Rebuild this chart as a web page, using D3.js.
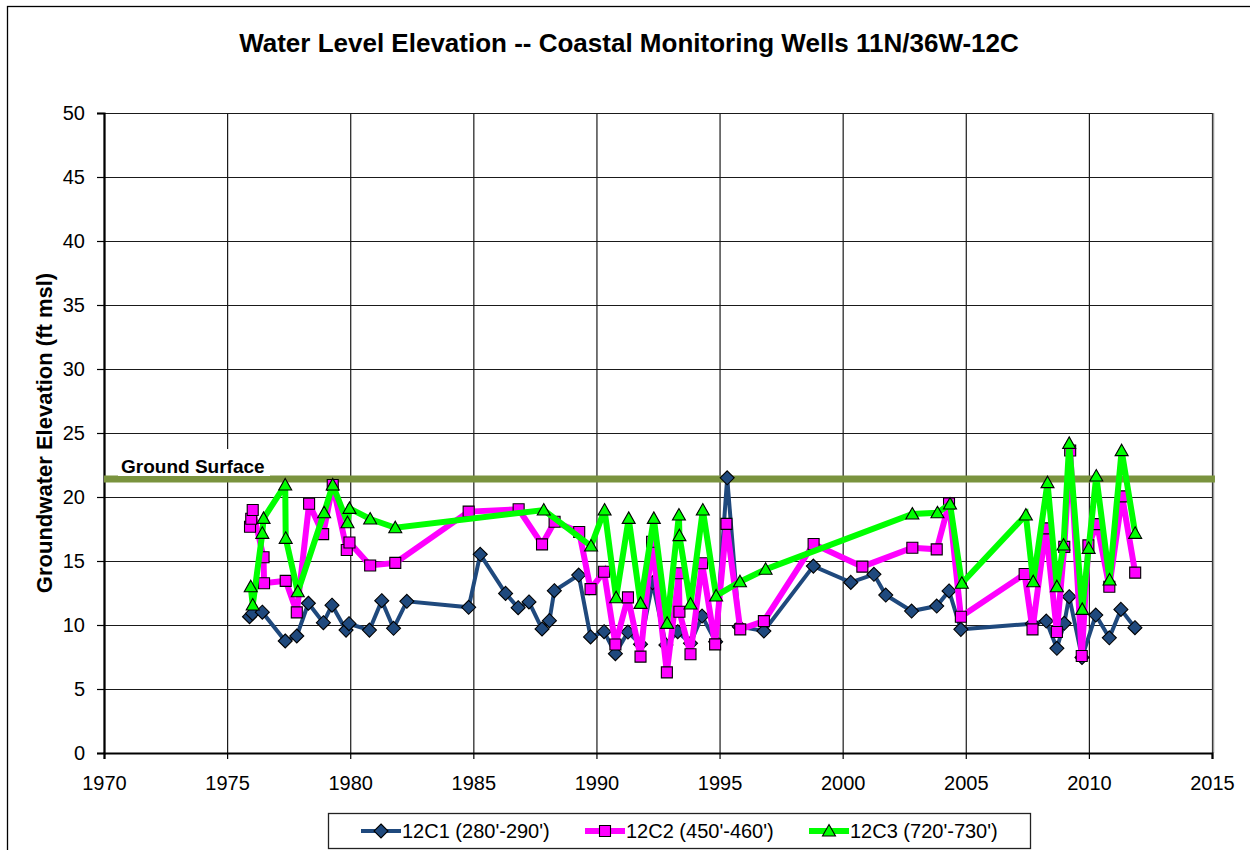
<!DOCTYPE html>
<html>
<head>
<meta charset="utf-8">
<script src="https://cdn.jsdelivr.net/npm/d3@7"></script>
<style>
  body { margin: 0; background: #fff; }
  svg { display: block; font-family: Arial, 'Liberation Sans', sans-serif; }
</style>
</head>
<body>
<div id="graph"></div>
<script>
// 12C1 (280'-290')
var c1Year = [1975.91, 1976.03, 1976.43, 1977.36, 1977.83, 1978.30, 1978.91, 1979.26, 1979.83, 1979.95,
  1980.78, 1981.28, 1981.76, 1982.30, 1984.81, 1985.28, 1986.31, 1986.82, 1987.26, 1987.79,
  1988.09, 1988.29, 1989.28, 1989.76, 1990.31, 1990.77, 1991.28, 1991.79, 1992.28, 1992.82,
  1993.30, 1993.82, 1994.29, 1994.84, 1995.31, 1995.80, 1996.80, 1998.81, 2000.33, 2001.27,
  2001.75, 2002.80, 2003.82, 2004.32, 2004.80, 2007.70, 2008.27, 2008.70, 2009.00, 2009.20,
  2009.72, 2010.28, 2010.83, 2011.30, 2011.87]
var c1Val = [10.65, 10.9, 11.0, 8.75, 9.14, 11.7, 10.18, 11.55, 9.6, 10.1,
  9.6, 11.9, 9.74, 11.85, 11.38, 15.52, 12.47, 11.35, 11.8, 9.69,
  10.34, 12.68, 13.9, 9.07, 9.48, 7.76, 9.45, 8.5, 13.3, 8.44,
  9.48, 8.57, 10.7, 8.7, 21.5, 9.87, 9.53, 14.6, 13.33, 13.96,
  12.34, 11.09, 11.48, 12.66, 9.66, 10.1, 10.31, 8.18, 10.13, 12.21,
  7.47, 10.78, 9.0, 11.22, 9.79]

// 12C2 (450'-460')
var c2Year = [1975.93, 1975.98, 1976.04, 1976.48, 1976.50, 1977.38, 1977.83, 1978.33, 1978.90, 1979.29,
  1979.86, 1979.97, 1980.81, 1981.83, 1984.81, 1986.84, 1987.79, 1988.30, 1989.30, 1989.76,
  1990.31, 1990.77, 1991.28, 1991.79, 1992.26, 1992.86, 1993.35, 1993.37, 1993.82, 1994.29,
  1994.82, 1995.28, 1995.84, 1996.80, 1998.82, 2000.80, 2002.83, 2003.82, 2004.32, 2004.80,
  2007.39, 2007.71, 2008.25, 2008.70, 2009.00, 2009.24, 2009.71, 2009.98, 2010.33, 2010.83,
  2011.35, 2011.88]
var c2Val = [17.68, 18.3, 18.98, 15.29, 13.26, 13.45, 10.99, 19.47, 17.1, 20.94,
  15.86, 16.45, 14.65, 14.85, 18.86, 19.04, 16.3, 18.07, 17.27, 12.8,
  14.16, 8.48, 12.16, 7.53, 16.5, 6.3, 14.04, 11.04, 7.72, 14.82,
  8.49, 17.9, 9.66, 10.3, 16.33, 14.56, 16.04, 15.91, 19.5, 10.65,
  13.98, 9.66, 17.55, 9.45, 16.1, 23.63, 7.58, 16.22, 17.88, 12.99,
  20.05, 14.09]

// 12C3 (720'-730')
var c3Year = [1975.96, 1976.04, 1976.43, 1976.48, 1977.36, 1977.38, 1977.87, 1978.94, 1979.29, 1979.89,
  1979.97, 1980.81, 1981.83, 1987.86, 1989.78, 1990.33, 1990.80, 1991.31, 1991.79, 1992.33,
  1992.87, 1993.35, 1993.37, 1993.82, 1994.32, 1994.86, 1995.83, 1996.87, 2002.83, 2003.85,
  2004.36, 2004.84, 2007.44, 2007.74, 2008.32, 2008.70, 2008.97, 2009.20, 2009.73, 2009.99,
  2010.30, 2010.84, 2011.33, 2011.88]
var c3Val = [12.99, 11.56, 17.16, 18.33, 20.94, 16.77, 12.6, 18.77, 20.94, 17.99,
  19.11, 18.28, 17.6, 18.98, 16.17, 18.98, 12.13, 18.33, 11.69, 18.33,
  10.13, 18.59, 16.98, 11.64, 18.98, 12.27, 13.38, 14.35, 18.67, 18.77,
  19.45, 13.26, 18.59, 13.38, 21.12, 12.99, 16.25, 24.19, 11.22, 15.99,
  21.64, 13.52, 23.62, 17.16]

var seriesNames = ["12C1 (280'-290')", "12C2 (450'-460')", "12C3 (720'-730')"]
var seriesColors = ['#1F497D', '#FF00FF', '#00FF00']
var seriesWidths = [4, 6, 6]
var groundSurface = 21.4
var xDomain = [1970, 2015]
var yDomain = [0, 50]
var xTicks = d3.range(1970, 2016, 5)
var yTicks = d3.range(0, 51, 5)

!(function(){
  var series = [
    {name: seriesNames[0], color: seriesColors[0], width: seriesWidths[0], shape: 'diamond',
      values: c1Year.map((d, i) => ({year: d, val: c1Val[i]}))},
    {name: seriesNames[1], color: seriesColors[1], width: seriesWidths[1], shape: 'square',
      values: c2Year.map((d, i) => ({year: d, val: c2Val[i]}))},
    {name: seriesNames[2], color: seriesColors[2], width: seriesWidths[2], shape: 'triangle',
      values: c3Year.map((d, i) => ({year: d, val: c3Val[i]}))},
  ]

  var markerPath = {
    diamond: 'M0,-7L7,0L0,7L-7,0Z',
    square: 'M-5.5,-5.5H5.5V5.5H-5.5Z',
    triangle: 'M0,-6.5L6.5,5L-6.5,5Z'
  }

  var W = 1250, H = 850
  var svg = d3.select('#graph').append('svg').attr('width', W).attr('height', H)

  // outer chart frame (only top/left inside the picture)
  svg.append('rect')
    .attr('x', 7.5).attr('y', 6.5).attr('width', W + 20).attr('height', H + 20)
    .attr('fill', 'none').attr('stroke', '#000').attr('stroke-width', 1.3)

  var pLeft = 104, pRight = 1212, pTop = 113, pBottom = 753
  var x = d3.scaleLinear().domain(xDomain).range([pLeft, pRight])
  var y = d3.scaleLinear().domain(yDomain).range([pBottom, pTop])

  // title
  svg.append('text')
    .attr('x', 629).attr('y', 52)
    .attr('text-anchor', 'middle')
    .style('font-size', '26px').style('font-weight', 'bold')
    .text('Water Level Elevation --  Coastal Monitoring Wells 11N/36W-12C')

  // gridlines
  svg.append('g')
    .attr('transform', `translate(${pLeft},0)`)
    .call(d3.axisLeft(y).tickValues(yTicks).tickSize(-(pRight - pLeft)).tickFormat(''))
    .call(g => g.select('.domain').remove())
    .call(g => g.selectAll('line').attr('stroke', '#1a1a1a').attr('stroke-width', 1.2))

  svg.append('g')
    .attr('transform', `translate(0,${pBottom})`)
    .call(d3.axisBottom(x).tickValues(xTicks).tickSize(-(pBottom - pTop)).tickFormat(''))
    .call(g => g.select('.domain').remove())
    .call(g => g.selectAll('line').attr('stroke', '#1a1a1a').attr('stroke-width', 1.2))

  // right plot edge shade
  svg.append('line')
    .attr('x1', pRight + 1.5).attr('x2', pRight + 1.5).attr('y1', pTop).attr('y2', pBottom)
    .attr('stroke', '#999').attr('stroke-width', 1.5)

  // axes
  var yAxis = svg.append('g')
    .attr('transform', `translate(${pLeft},0)`)
    .call(d3.axisLeft(y).tickValues(yTicks).tickSize(7).tickPadding(12))
  yAxis.select('.domain').attr('stroke', '#000').attr('stroke-width', 2.2)
  yAxis.selectAll('line').attr('stroke', '#000').attr('stroke-width', 1.2)
  yAxis.selectAll('text').style('font-size', '20px').attr('fill', '#000')

  var xAxis = svg.append('g')
    .attr('transform', `translate(0,${pBottom})`)
    .call(d3.axisBottom(x).tickValues(xTicks).tickSize(6).tickPadding(17).tickFormat(d3.format('d')))
  xAxis.select('.domain').attr('stroke', '#000').attr('stroke-width', 2.2)
  xAxis.selectAll('line').attr('stroke', '#000').attr('stroke-width', 1.2)
  xAxis.selectAll('text').style('font-size', '20px').attr('fill', '#000')

  // y title
  svg.append('text')
    .attr('transform', 'translate(52,433) rotate(-90)')
    .attr('text-anchor', 'middle')
    .style('font-size', '22px').style('font-weight', 'bold')
    .text('Groundwater Elevation (ft msl)')

  // ground surface
  svg.append('line')
    .attr('x1', x(1970)).attr('x2', x(2015.12))
    .attr('y1', y(groundSurface)).attr('y2', y(groundSurface))
    .attr('stroke', '#7A933E').attr('stroke-width', 7)

  svg.append('rect')
    .attr('x', 118).attr('y', 449).attr('width', 152).attr('height', 27)
    .attr('fill', '#fff')
  svg.append('text')
    .attr('x', 121).attr('y', 472.5)
    .style('font-size', '19px').style('font-weight', 'bold')
    .text('Ground Surface')

  // series: line then markers, in order
  var line = d3.line().x(d => x(d.year)).y(d => y(d.val))

  series.forEach(s => {
    var g = svg.append('g')
    g.append('path')
      .attr('d', line(s.values))
      .attr('fill', 'none')
      .attr('stroke', s.color)
      .attr('stroke-width', s.width)
      .attr('stroke-linejoin', 'miter')
      .attr('stroke-miterlimit', 3)
    g.selectAll('path.mk').data(s.values).join('path')
      .attr('class', 'mk')
      .attr('d', markerPath[s.shape])
      .attr('transform', d => `translate(${x(d.year)},${y(d.val)})`)
      .attr('fill', s.color)
      .attr('stroke', '#000')
      .attr('stroke-width', 1.1)
  })

  // legend
  var legend = svg.append('g')
  legend.append('rect')
    .attr('x', 328.5).attr('y', 813.5).attr('width', 702).attr('height', 35)
    .attr('fill', '#fff').attr('stroke', '#222').attr('stroke-width', 1.3)

  var legendItem = legend.selectAll('g.item').data(series).join('g')
    .attr('class', 'item')
    .attr('transform', (d, i) => `translate(${381 + i * 224},831)`)
  legendItem.append('line')
    .attr('x1', -20).attr('x2', 20)
    .attr('stroke', d => d.color).attr('stroke-width', d => d.width)
  legendItem.append('path')
    .attr('d', d => markerPath[d.shape])
    .attr('fill', d => d.color).attr('stroke', '#000').attr('stroke-width', 1.1)
  legendItem.append('text')
    .attr('x', 21).attr('y', 7)
    .style('font-size', '20px')
    .text(d => d.name)
})()
</script>
</body>
</html>
